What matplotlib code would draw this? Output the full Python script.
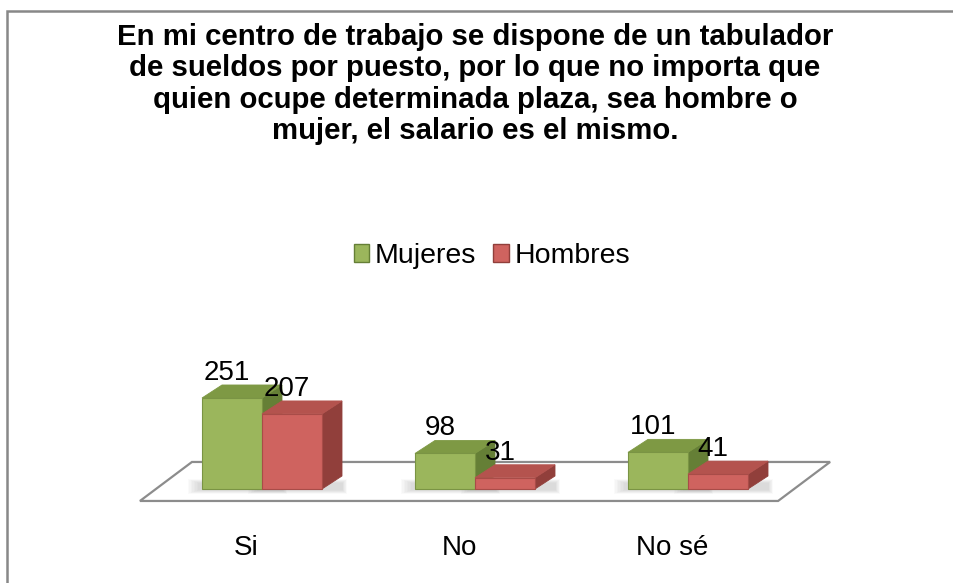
import matplotlib
matplotlib.use('Agg')
import matplotlib.pyplot as plt
from matplotlib.patches import Polygon, Patch, Rectangle
from matplotlib.transforms import IdentityTransform
import numpy as np

# ---- data ----
categories = ['Si', 'No', 'No sé']
series_names = ['Mujeres', 'Hombres']
mujeres = [251, 98, 101]
hombres = [207, 31, 41]
title = ("En mi centro de trabajo se dispone de un tabulador\n"
         "de sueldos por puesto, por lo que no importa que\n"
         "quien ocupe determinada plaza, sea hombre o\n"
         "mujer, el salario es el mismo.")

# ---- style ----
plt.rcParams['font.family'] = ['Liberation Sans', 'DejaVu Sans']
W, H, DPI = 954, 583, 100
front = ['#9BB65C', '#CF635F']
top = ['#7E9944', '#B4534E']
side = ['#657F36', '#913F3B']
edge = ['#7A9444', '#A84C48']
DX, DY = 20, 13          # 3-D depth of the bars, pixels

fig = plt.figure(figsize=(W / DPI, H / DPI), dpi=DPI)
fig.patch.set_facecolor('white')

ax = fig.add_axes([0, 0, 1, 1])
px_per_cat = 213.0
px_per_val = 0.3626
ax.set_xlim(-262 / px_per_cat, (W - 262) / px_per_cat)
ax.set_ylim(-94 / px_per_val, (H - 94) / px_per_val)
ax.axis('off')

ident = IdentityTransform()

# floor (parallelogram)
fl_front = ax.transData.transform([(-0.573, -33), (2.423, -33)])
fdx, fdy = 52, 39
floor = Polygon([fl_front[0], fl_front[1],
                 fl_front[1] + [fdx, fdy], fl_front[0] + [fdx, fdy]],
                closed=True, facecolor='white', edgecolor='#8C8C8C',
                lw=1.6, transform=ident, zorder=1)
ax.add_patch(floor)

x = np.arange(len(categories))
bw = 60 / px_per_cat
series = [mujeres, hombres]

# soft shadows
for s, vals in enumerate(series):
    for i, v in enumerate(vals):
        x0 = x[i] + (s - 1) * bw
        (px0, py0), (px1, py1) = ax.transData.transform([(x0, 0), (x0 + bw, v)])
        for k in range(1, 9):
            e = k * 1.5
            sh = Polygon([(px0 - e - 2, py0 - 1 - e * 0.3),
                          (px1 + DX + e * 0.4, py0 - 1 - e * 0.3),
                          (px1 + DX + e * 0.4, py0 + 6 + e * 0.3),
                          (px0 - e - 2, py0 + 6 + e * 0.3)],
                         closed=True, facecolor='#707070', edgecolor='none',
                         alpha=0.03, transform=ident, zorder=1.5)
            ax.add_patch(sh)

# bars: side + top faces, then front faces (ax.bar)
for s, vals in enumerate(series):
    xs = x + (s - 0.5) * bw
    for i, v in enumerate(vals):
        x0 = xs[i] - bw / 2
        (px0, py0), (px1, py1) = ax.transData.transform([(x0, 0), (x0 + bw, v)])
        side_poly = Polygon([(px1, py0), (px1 + DX, py0 + DY),
                             (px1 + DX, py1 + DY), (px1, py1)],
                            closed=True, facecolor=side[s], edgecolor=side[s],
                            lw=0.6, transform=ident, zorder=2 + 2 * s)
        top_poly = Polygon([(px0, py1), (px1, py1),
                            (px1 + DX, py1 + DY), (px0 + DX, py1 + DY)],
                           closed=True, facecolor=top[s], edgecolor=top[s],
                           lw=0.6, transform=ident, zorder=2 + 2 * s)
        ax.add_patch(side_poly)
        ax.add_patch(top_poly)
    ax.bar(xs, vals, bw, color=front[s], edgecolor=edge[s], linewidth=0.8,
           zorder=3 + 2 * s)
    for i, v in enumerate(vals):
        ax.annotate(str(v), (xs[i], v), xytext=(-5, 18),
                    textcoords='offset pixels', ha='center', va='baseline',
                    fontsize=20, color='black', zorder=10)

# category labels
for i, c in enumerate(categories):
    ax.annotate(c, (x[i], 0), xytext=(-16, -66), textcoords='offset pixels',
                ha='center', va='baseline', fontsize=20, color='black')

# title
fig.text(475 / W, 1 - 23 / H, title, ha='center', va='top', fontsize=21.2,
         fontweight='bold', linespacing=1.15, color='black')

# legend
handles = [Patch(facecolor=front[0], edgecolor=side[0]),
           Patch(facecolor=front[1], edgecolor=side[1])]
fig.legend(handles, series_names, loc='center',
           bbox_to_anchor=(492 / W, 1 - 256 / H), ncol=2, frameon=False,
           fontsize=20.5, handlelength=0.55, handleheight=0.55,
           handletextpad=0.2, columnspacing=0.6, borderaxespad=0)

# outer border
fig.patches.append(Rectangle((7 / W, -0.1), 1.2, 1 - 11 / H + 0.1,
                             transform=fig.transFigure, fill=False,
                             edgecolor='#888888', lw=1.8, zorder=0))

fig.savefig('out.png', dpi=DPI, facecolor='white')
